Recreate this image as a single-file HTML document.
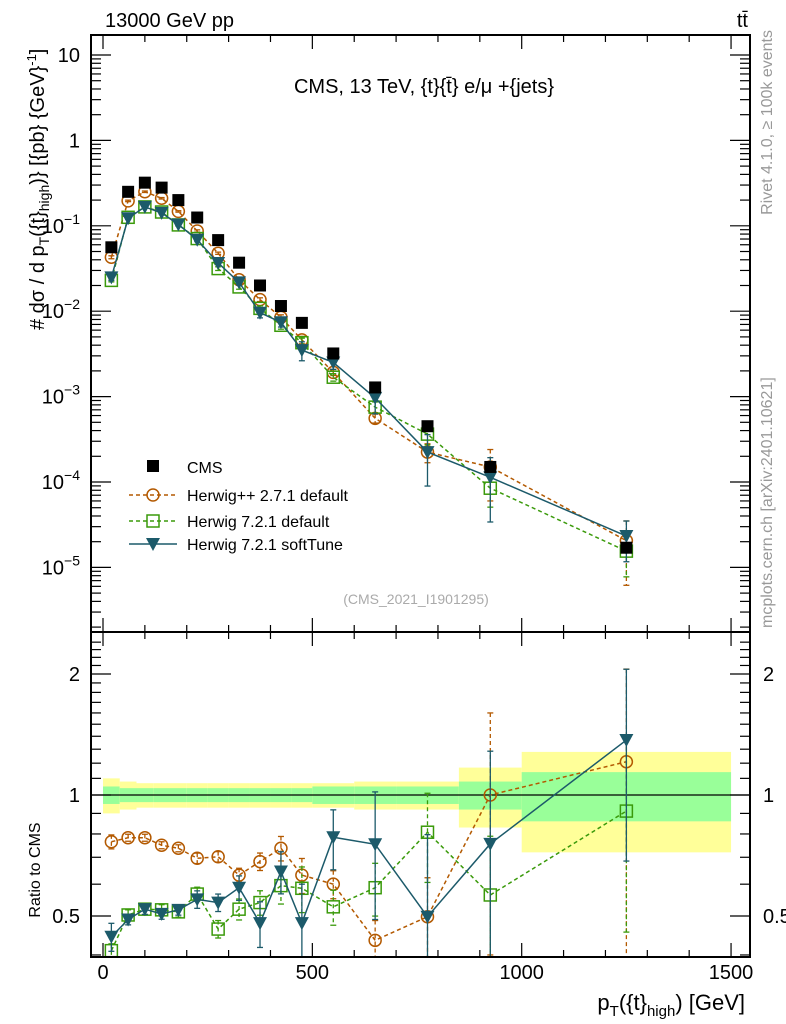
<!DOCTYPE html>
<html><head><meta charset="utf-8"><style>
body{margin:0;background:#fff;}
svg{display:block;font-family:"Liberation Sans",sans-serif;}
</style></head><body>
<svg id="c" width="786" height="1024" viewBox="0 0 786 1024">
<text x="105" y="27" font-size="20">13000 GeV pp</text>
<text x="748" y="27" font-size="20" text-anchor="end">tt̄</text>
<text x="424" y="93" font-size="20" text-anchor="middle">CMS, 13 TeV, {t}{t̄} e/μ +{jets}</text>
<text x="416" y="604" font-size="14" fill="#aaa" text-anchor="middle">(CMS_2021_I1901295)</text>
<text transform="translate(772,30) rotate(-90)" font-size="16" fill="#999" text-anchor="end">Rivet 4.1.0, ≥ 100k events</text>
<text transform="translate(772,628) rotate(-90)" font-size="16" fill="#999">mcplots.cern.ch [arXiv:2401.10621]</text>
<text transform="translate(44,330) rotate(-90)" font-size="20"># dσ / d p<tspan font-size="14" dy="5">T</tspan><tspan dy="-5">({t}</tspan><tspan font-size="14" dy="5">high</tspan><tspan dy="-5">)} [{pb} {GeV}</tspan><tspan font-size="13" dy="-8">-1</tspan><tspan dy="8">]</tspan></text>
<text transform="translate(40,870) rotate(-90)" font-size="16" text-anchor="middle">Ratio to CMS</text>
<text x="745" y="1010" font-size="22" text-anchor="end">p<tspan font-size="15" dy="6">T</tspan><tspan dy="-6">({t}</tspan><tspan font-size="15" dy="6">high</tspan><tspan dy="-6">) [GeV]</tspan></text>
<g id="main"></g><g id="ratio"></g><g id="axes"></g>
<g>
<rect x="147" y="460" width="12" height="12" fill="#000"/>
<text x="187" y="473" font-size="16">CMS</text>
<line x1="129" y1="495" x2="177" y2="495" stroke="#b35900" stroke-width="1.5" stroke-dasharray="4,3"/>
<circle cx="153" cy="495" r="6" fill="none" stroke="#b35900" stroke-width="1.5"/>
<text x="187" y="501" font-size="16">Herwig++ 2.7.1 default</text>
<line x1="129" y1="521" x2="177" y2="521" stroke="#3a9a0a" stroke-width="1.5" stroke-dasharray="4,3"/>
<rect x="147" y="515" width="12" height="12" fill="none" stroke="#3a9a0a" stroke-width="1.5"/>
<text x="187" y="527" font-size="16">Herwig 7.2.1 default</text>
<line x1="129" y1="544" x2="177" y2="544" stroke="#1c5a6a" stroke-width="1.5"/>
<path d="M146,538 L160,538 L153,551 Z" fill="#1c5a6a"/>
<text x="187" y="550" font-size="16">Herwig 7.2.1 softTune</text>
</g>
</svg>
<script>
const binEdges=[0,40,80,120,160,200,250,300,350,400,450,500,600,700,850,1000,1500];
const xCenters=[20,60,100,140,180,225,275,325,375,425,475,550,650,775,925,1250];
const cmsValues=[0.056,0.25,0.32,0.28,0.2,0.125,0.068,0.037,0.02,0.0115,0.0073,0.0032,0.00128,0.00045,0.00015,0.000017];
const ratioHpp=[0.765,0.783,0.783,0.75,0.737,0.696,0.702,0.632,0.683,0.737,0.632,0.60,0.435,0.498,1.0,1.21];
const ratioH721=[0.41,0.503,0.52,0.518,0.512,0.567,0.464,0.52,0.54,0.595,0.586,0.527,0.588,0.808,0.564,0.912];
const ratioSoft=[0.444,0.49,0.52,0.506,0.518,0.55,0.54,0.588,0.48,0.645,0.48,0.785,0.754,0.498,0.756,1.37];
const relErrHpp=[0.04,0.02,0.02,0.02,0.02,0.03,0.03,0.04,0.05,0.07,0.1,0.08,0.12,0.25,0.6,0.7];
const relErrH721=[0.04,0.03,0.03,0.03,0.03,0.04,0.05,0.06,0.07,0.1,0.13,0.1,0.15,0.25,0.4,0.5];
const relErrSoft=[0.08,0.03,0.03,0.03,0.03,0.05,0.05,0.07,0.13,0.12,0.25,0.17,0.35,0.6,0.7,0.5];
const bandYellow=[0.1,0.08,0.07,0.07,0.07,0.07,0.07,0.07,0.07,0.07,0.07,0.07,0.08,0.08,0.17,0.28];
const bandGreen=[0.05,0.04,0.04,0.04,0.04,0.04,0.04,0.04,0.04,0.04,0.04,0.05,0.05,0.05,0.08,0.14];
const xTickLabels=[0,500,1000,1500];
const yMainExps=[1,0,-1,-2,-3,-4,-5];
const yRatioTicks=[2,1,0.5];

const L=91,R=750,T=35,MB=632,RB=957;
const X=v=>103+v*0.4187;
const YM=v=>55-(Math.log10(v)-1)*85.4;
const YR=v=>795-Math.log10(v)*402;
const NS='http://www.w3.org/2000/svg';
function mk(p,t,a){const e=document.createElementNS(NS,t);for(const k in a)e.setAttribute(k,a[k]);p.appendChild(e);return e;}
const gm=document.getElementById('main'),gr=document.getElementById('ratio'),ga=document.getElementById('axes');

binEdges.slice(0,-1).forEach((lo,i)=>{
 const hi=binEdges[i+1];
 const y=mk(gr,'rect',{x:X(lo),y:YR(1+bandYellow[i]),width:X(hi)-X(lo),height:YR(1-bandYellow[i])-YR(1+bandYellow[i]),fill:'#ffff99'});
 
 
 const g=mk(gr,'rect',{x:X(lo),y:YR(1+bandGreen[i]),width:X(hi)-X(lo),height:YR(1-bandGreen[i])-YR(1+bandGreen[i]),fill:'#99ff99'});
 
 
});
mk(gr,'line',{x1:L,x2:R,y1:YR(1),y2:YR(1),stroke:'#000','stroke-width':1.2});

function clipY(y,top,bot){return Math.max(top,Math.min(bot,y));}
function drawSeries(g,Y,vals,errs,color,dash,marker,name,top,bot){
 const pts=xCenters.map((x,i)=>[X(x),Y(vals[i])]);
 const pl=mk(g,'polyline',{points:pts.map(p=>p.join(',')).join(' '),fill:'none',stroke:color,'stroke-width':1.5,'stroke-dasharray':dash});
 
 
 vals.forEach((v,i)=>{
  const x=pts[i][0],y=pts[i][1];
  const y1=clipY(Y(v*(1+errs[i])),top,bot),y2=clipY(Y(Math.max(v*(1-errs[i]),1e-9)),top,bot);
  mk(g,'line',{x1:x,x2:x,y1:y1,y2:y2,stroke:color,'stroke-width':1.3,'stroke-dasharray':dash});
  mk(g,'line',{x1:x-3,x2:x+3,y1:y1,y2:y1,stroke:color,'stroke-width':1.3});
  mk(g,'line',{x1:x-3,x2:x+3,y1:y2,y2:y2,stroke:color,'stroke-width':1.3});
  if(y<top||y>bot)return;
  let m;
  if(marker==='c')m=mk(g,'circle',{cx:x,cy:y,r:6,fill:'none',stroke:color,'stroke-width':1.5});
  else if(marker==='s')m=mk(g,'rect',{x:x-6,y:y-6,width:12,height:12,fill:'none',stroke:color,'stroke-width':1.5});
  else m=mk(g,'path',{d:`M${x-7},${y-6} L${x+7},${y-6} L${x},${y+7} Z`,fill:color});
  
  
 });
}
const mc=(r)=>cmsValues.map((c,i)=>c*r[i]);
drawSeries(gm,YM,mc(ratioHpp),relErrHpp,'#b35900','4,3','c','herwigpp',T,MB);
drawSeries(gm,YM,mc(ratioH721),relErrH721,'#3a9a0a','4,3','s','herwig721',T,MB);
drawSeries(gm,YM,mc(ratioSoft),relErrSoft,'#1c5a6a','none','t','softtune',T,MB);
cmsValues.forEach((v,i)=>{
 const r=mk(gm,'rect',{x:X(xCenters[i])-6,y:YM(v)-6,width:12,height:12,fill:'#000'});
 
 
});
drawSeries(gr,YR,ratioHpp,relErrHpp,'#b35900','4,3','c','ratio-herwigpp',MB,RB);
drawSeries(gr,YR,ratioH721,relErrH721,'#3a9a0a','4,3','s','ratio-herwig721',MB,RB);
drawSeries(gr,YR,ratioSoft,relErrSoft,'#1c5a6a','none','t','ratio-softtune',MB,RB);

[[T,MB],[MB,RB]].forEach(([t,b])=>mk(ga,'rect',{x:L,y:t,width:R-L,height:b-t,fill:'none',stroke:'#000','stroke-width':2}));
for(let v=0;v<=1500;v+=100){
 const x=X(v),big=v%500===0,len=big?14:7;
 [[T,1],[MB,-1],[MB,1],[RB,-1]].forEach(([y,d])=>mk(ga,'line',{x1:x,x2:x,y1:y,y2:y+d*len,stroke:'#000','stroke-width':1.2}));
}
xTickLabels.forEach(v=>{const t=mk(ga,'text',{x:X(v),y:979,'font-size':20,'text-anchor':'middle'});t.textContent=v;
 
 });
for(let e=-6;e<=1;e++)for(let k=1;k<=9;k++){
 const y=YM(k*Math.pow(10,e));if(y<T||y>MB)continue;const len=k===1?20:10;
 mk(ga,'line',{x1:L,x2:L+len,y1:y,y2:y,stroke:'#000','stroke-width':1.2});
 mk(ga,'line',{x1:R,x2:R-len,y1:y,y2:y,stroke:'#000','stroke-width':1.2});
}
yMainExps.forEach(e=>{
 const t=mk(ga,'text',{x:80,y:YM(Math.pow(10,e))+7,'font-size':20,'text-anchor':'end'});
 
 
 if(e===1)t.textContent='10';else if(e===0)t.textContent='1';
 else{t.textContent='10';const s=mk(t,'tspan',{'font-size':14,dy:-9});s.textContent='−'+(-e);}
});
for(let v=0.4;v<=2.5;v+=0.1){
 const y=YR(v);if(y<MB||y>RB)continue;const big=[0.5,1,2].some(q=>Math.abs(q-v)<1e-6);const len=big?20:10;
 mk(ga,'line',{x1:L,x2:L+len,y1:y,y2:y,stroke:'#000','stroke-width':1.2});
 mk(ga,'line',{x1:R,x2:R-len,y1:y,y2:y,stroke:'#000','stroke-width':1.2});
}
yRatioTicks.forEach(v=>{
 [[80,'end'],[763,'start']].forEach(([x,a])=>{
  const t=mk(ga,'text',{x:x,y:YR(v)+7,'font-size':20,'text-anchor':a});t.textContent=v;
  
  
 });
});
</script>
</body></html>
